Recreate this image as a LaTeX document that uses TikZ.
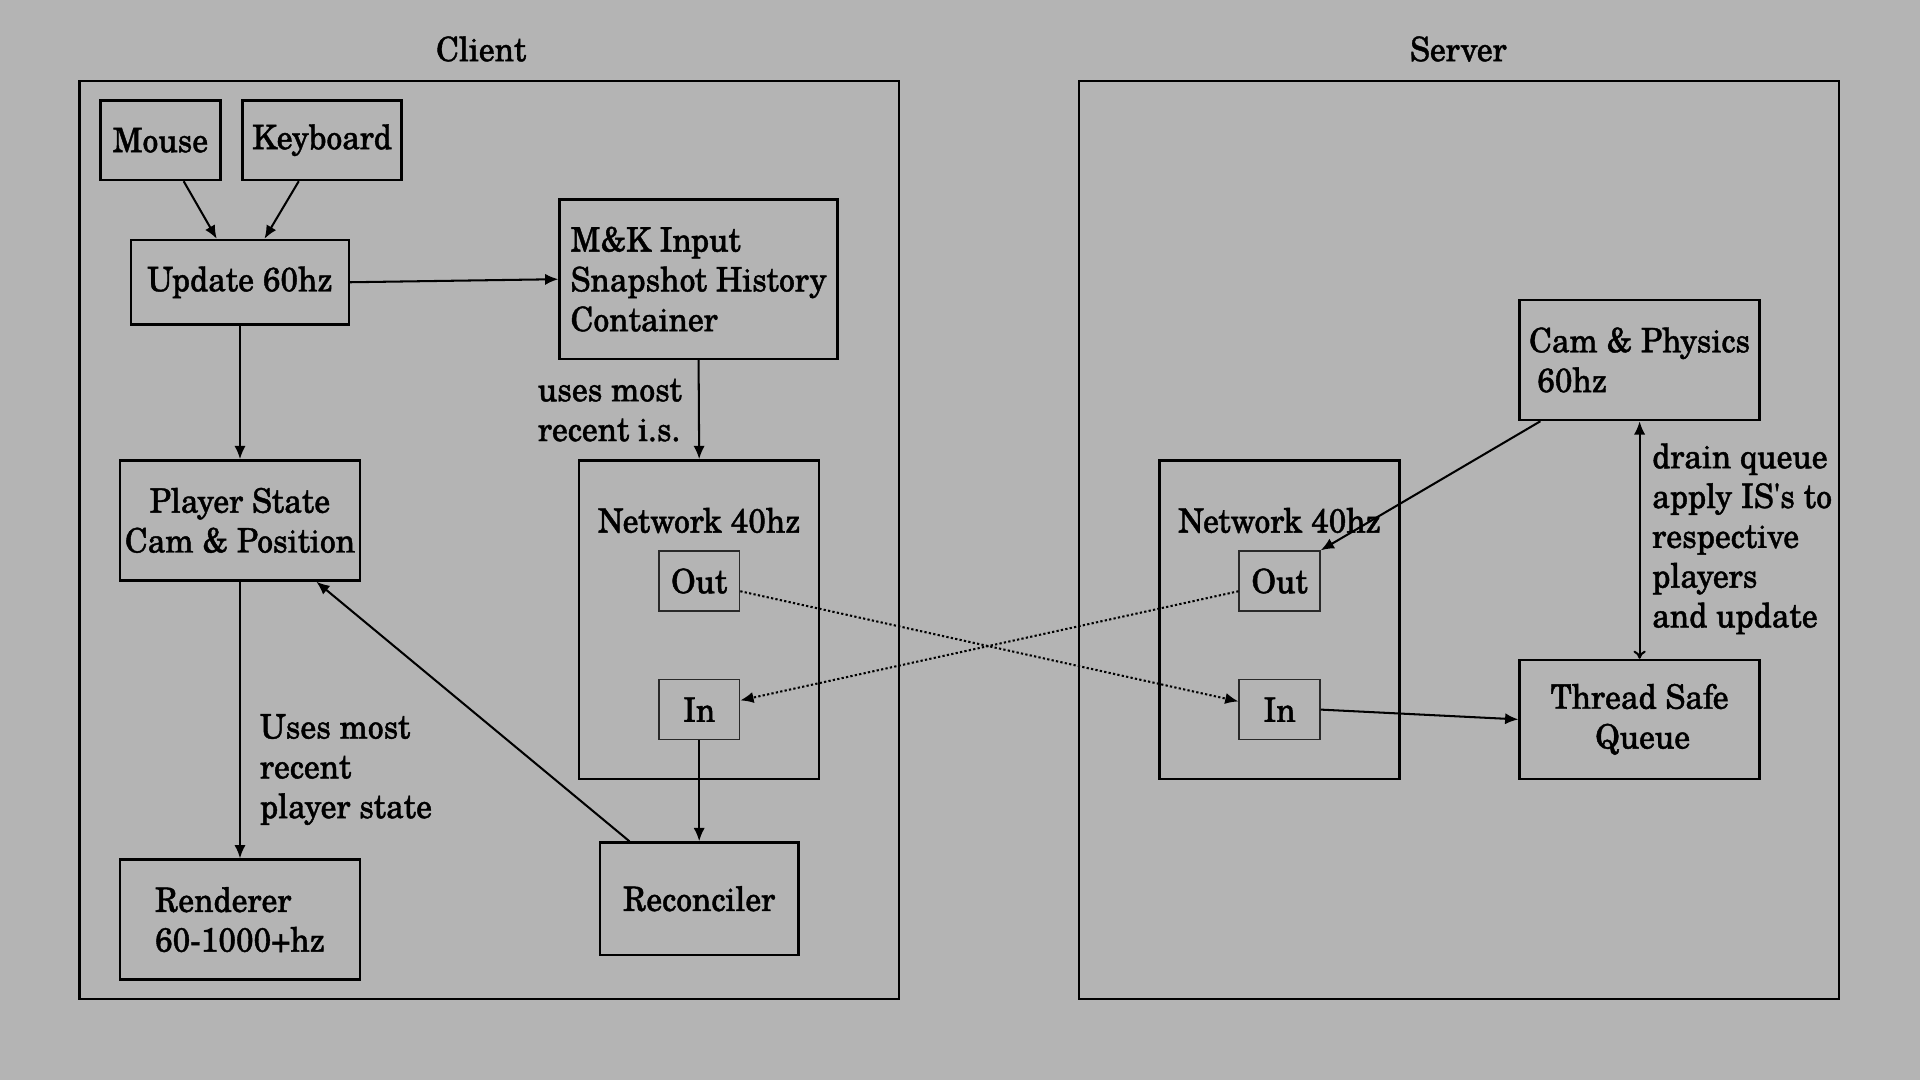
\documentclass[tikz,border=0pt]{standalone}
\usepackage{fontspec}
\setmainfont{TeX Gyre Schola}[FakeStretch=0.94, FakeBold=1.2, Ligatures=TeXOff]
\usetikzlibrary{arrows.meta}
\definecolor{bg}{RGB}{180,180,180}
\definecolor{thinbox}{RGB}{40,40,40}
\begin{document}
\begin{tikzpicture}[x=0.6pt,y=-0.6pt,
  every node/.style={font=\fontsize{16.5}{19.5}\selectfont},
  frame/.style={draw, line width=1.2pt},
  box/.style={draw, line width=1.2pt, inner sep=0pt},
  port/.style={draw=thinbox, line width=0.7pt, inner sep=0pt, minimum width=39.6pt, minimum height=29.4pt},
  lbl/.style={inner sep=0pt, anchor=west, align=left},
  conn/.style={line width=1pt, -{Latex[length=6.5pt,width=5.5pt]}},
  dot/.style={line width=1pt, dash pattern=on 1.1pt off 1.1pt, -{Latex[length=6.5pt,width=5.5pt]}}
]
\fill[bg] (0,0) rectangle (1568,882);
% frames
\draw[frame] (65,66) rectangle (734,816);
\draw[frame] (881,66) rectangle (1502,816);
\node (clientlbl) at (393,40) {Client};
\node (serverlbl) at (1191,40) {Server};
% client nodes
\node[box, minimum width=58.8pt, minimum height=39pt] (mouse) at (131,114.5) {Mouse};
\node[box, minimum width=78pt, minimum height=39pt] (kbd) at (263,114.5) {Keyboard};
\node[box, minimum width=106.8pt, minimum height=41.4pt] (update) at (196,230.5) {Update 60hz};
\node[box, minimum width=136.2pt, minimum height=78pt, align=left] (mk) at (570.5,228) {M\&K Input\\Snapshot History\\Container};
\node[box, minimum width=117.6pt, minimum height=58.8pt, align=center] (player) at (196,425) {Player State\\Cam \& Position};
\node[box, minimum width=117.6pt, minimum height=58.8pt, align=left] (renderer) at (196,751) {Renderer\\60-1000+hz};
\node[box, minimum width=117.6pt, minimum height=156pt] (netc) at (571,506) {};
\node (netclbl) at (571,425) {Network 40hz};
\node[port] (outc) at (571,474.5) {Out};
\node[port] (inc) at (571,579.5) {In};
\node[box, minimum width=97.2pt, minimum height=55.2pt] (recon) at (571,734) {Reconciler};
% server nodes
\node[box, minimum width=117.6pt, minimum height=156pt] (nets) at (1045,506) {};
\node (netslbl) at (1045,425) {Network 40hz};
\node[port] (outs) at (1045,474.5) {Out};
\node[port] (ins) at (1045,579.5) {In};
\node[box, minimum width=117.6pt, minimum height=58.8pt, align=left] (cam) at (1339,294) {Cam \& Physics\\\hspace*{4pt}60hz};
\node[box, minimum width=117.6pt, minimum height=58.2pt, align=center] (tsq) at (1339,587.5) {Thread Safe\\\hspace*{3pt}Queue};
% labels
\node[lbl] (usesis) at (439,335) {uses most\\recent i.s.};
\node[lbl] (usesps) at (212,628.5) {Uses most\\recent\\player state};
\node[lbl] (drain) at (1349,440) {drain queue\\apply IS's to\\respective\\players\\and update};
% connectors
\draw[conn] ([xshift=11.4pt]mouse.south) -- ([xshift=-11.4pt]update.north);
\draw[conn] ([xshift=-11.4pt]kbd.south) -- ([xshift=12pt]update.north);
\draw[conn] (update.east) -- (mk.west);
\draw[conn] (update.south) -- (player.north);
\draw[conn] (mk.south) -- (netc.north);
\draw[conn] (player.south) -- (renderer.north);
\draw[conn] ([xshift=15pt]recon.north west) -- ([xshift=-22pt]player.south east);
\draw[conn] (inc.south) -- (recon.north);
\draw[dot] ([yshift=-5pt]outc.east) -- ([yshift=4pt]ins.west);
\draw[dot] ([yshift=-5pt]outs.west) -- ([yshift=4.5pt]inc.east);
\draw[conn] ([xshift=10.8pt]cam.south west) -- (outs.north east);
\draw[line width=1pt, {Latex[length=6.5pt,width=5.5pt]}-{To[length=4pt,width=6pt]}] (cam.south) -- (tsq.north);
\draw[conn] (ins.east) -- (tsq.west);
\end{tikzpicture}
\end{document}
